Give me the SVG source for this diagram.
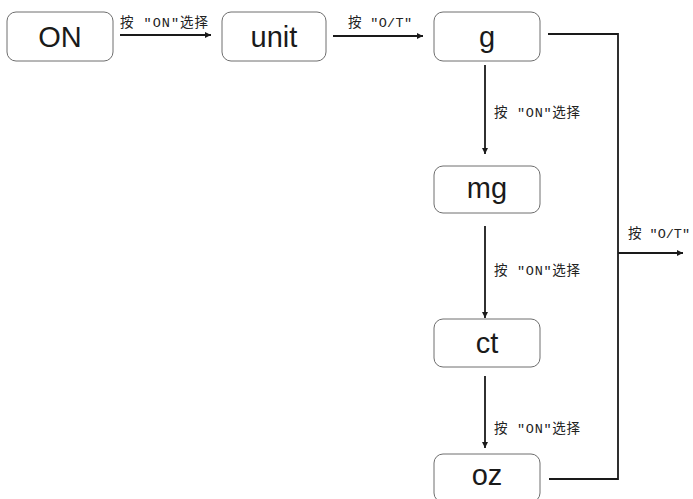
<svg xmlns="http://www.w3.org/2000/svg" width="693" height="499" viewBox="0 0 693 499">
<defs>
<marker id="ah" viewBox="0 0 10 10" refX="10" refY="5" markerWidth="8" markerHeight="6" markerUnits="userSpaceOnUse" orient="auto">
<path d="M0,0 L10,5 L0,10 Z" fill="#1a1a1a"/>
</marker>
<style>
.box{fill:#fff;stroke:#6e6e6e;stroke-width:1}
.nt{font-family:"Liberation Sans",Arial,sans-serif;font-size:29px;fill:#1a1a1a;text-anchor:middle}
.ln{fill:none;stroke:#1a1a1a;stroke-width:1.8}
.lb{font-family:"Liberation Mono","Noto Sans CJK SC",monospace;font-size:13.5px;fill:#222}
</style>
</defs>
<rect width="693" height="499" fill="#fff"/>
<g id="node-on"><rect class="box" x="7" y="12" width="106" height="49" rx="9"/><text class="nt" x="60" y="47">ON</text></g>
<g id="node-unit"><rect class="box" x="222" y="12" width="104" height="49" rx="9"/><text class="nt" x="274" y="47">unit</text></g>
<g id="node-g"><rect class="box" x="434" y="12" width="106" height="49" rx="9"/><text class="nt" x="487" y="47">g</text></g>
<g id="node-mg"><rect class="box" x="434" y="166" width="106" height="47" rx="9"/><text class="nt" x="487" y="198">mg</text></g>
<g id="node-ct"><rect class="box" x="434" y="319" width="106" height="48" rx="9"/><text class="nt" x="487" y="353">ct</text></g>
<g id="node-oz"><rect class="box" x="434" y="454" width="106" height="48" rx="9"/><text class="nt" x="487" y="485">oz</text></g>
<g id="connectors">
<line class="ln" x1="120" y1="35" x2="211" y2="35" marker-end="url(#ah)"/>
<line class="ln" x1="333" y1="36" x2="423" y2="36" marker-end="url(#ah)"/>
<line class="ln" x1="485" y1="65" x2="485" y2="154" marker-end="url(#ah)"/>
<line class="ln" x1="485" y1="226" x2="485" y2="318" marker-end="url(#ah)"/>
<line class="ln" x1="485" y1="376" x2="485" y2="448" marker-end="url(#ah)"/>
<polyline class="ln" points="548,34 618,34 618,479 549,479"/>
<line class="ln" x1="618" y1="253" x2="683" y2="253" marker-end="url(#ah)"/>
</g>
<g id="labels">
<text class="lb" x="120" y="26.5" textLength="88">按 "ON"选择</text>
<text class="lb" x="348" y="26.5" textLength="64">按 "O/T"</text>
<text class="lb" x="494" y="116.5" textLength="86">按 "ON"选择</text>
<text class="lb" x="494" y="274.5" textLength="86">按 "ON"选择</text>
<text class="lb" x="494" y="432.5" textLength="86">按 "ON"选择</text>
<text class="lb" x="628" y="238" textLength="62">按 "O/T"</text>
</g>
</svg>
